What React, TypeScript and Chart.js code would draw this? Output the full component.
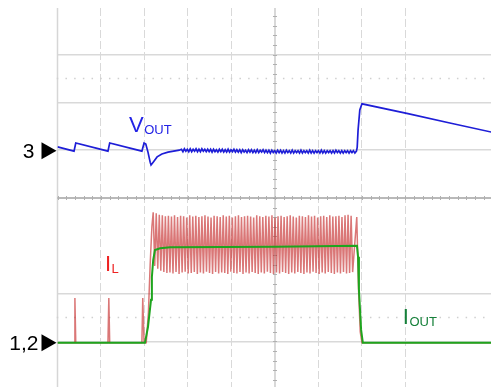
import { useEffect, useRef } from "react";
import { Chart, registerables } from "chart.js";

Chart.register(...registerables);

// Axis extents (in screen divisions of the oscilloscope)
const X_MIN = -5;
const X_MAX = 4.966;
const Y_MIN = -3.954;
const Y_MAX = 3.975;
// horizontal grid rows that the scope shows
const Y_GRID_ROWS = [3, 2, 1, -2, -3];

// Channel ground markers
const CH3_LEVEL = 0.99;
const CH12_LEVEL = -3.03;

// VOUT (channel 3) – before the load step
const VOUT_PRE_T = [-5.0, -4.62, -4.58, -3.84, -3.8, -3.06, -3.01, -2.97, -2.92, -2.87, -2.85, -2.8, -2.71, -2.6, -2.46, -2.2];
const VOUT_PRE_V = [1.07, 0.98, 1.15, 0.98, 1.15, 0.98, 1.15, 1.13, 0.96, 0.75, 0.69, 0.75, 0.86, 0.92, 0.96, 1.0];
// VOUT ripple during load (sample start / step)
const VOUT_RIPPLE_T0 = -2.15;
const VOUT_RIPPLE_DT = 0.0335;
const VOUT_RIPPLE = [
  1.02, 0.97, 1.03, 0.98, 1.02, 0.97, 1.03, 0.97, 1.02, 0.98,
  1.03, 0.97, 1.02, 0.97, 1.03, 0.98, 1.02, 0.97, 1.02, 0.97,
  1.02, 0.96, 1.02, 0.97, 1.01, 0.96, 1.02, 0.97, 1.02, 0.96,
  1.01, 0.96, 1.02, 0.96, 1.01, 0.97, 1.02, 0.96, 1.01, 0.96,
  1.01, 0.95, 1.01, 0.96, 1.0, 0.95, 1.01, 0.96, 1.01, 0.95,
  1.0, 0.95, 1.01, 0.95, 1.0, 0.96, 1.01, 0.95, 1.0, 0.95,
  1.0, 0.94, 1.0, 0.95, 0.99, 0.94, 1.0, 0.95, 1.0, 0.94,
  0.99, 0.94, 1.0, 0.95, 0.99, 0.94, 1.0, 0.94, 0.99, 0.95,
  0.99, 0.94, 1.0, 0.94, 0.99, 0.95, 0.99, 0.94, 1.0, 0.94,
  0.99, 0.94, 0.99, 0.95, 0.99, 0.94, 1.0, 0.94, 0.99, 0.94,
  0.99, 0.95, 0.99, 0.94, 0.99, 0.94, 1.0, 0.95, 0.99, 0.94,
  0.99, 0.94, 0.99, 0.95, 0.99, 0.94, 0.99, 0.95, 0.99, 0.94,
  0.98,
];
// VOUT after load release
const VOUT_POST_T = [1.87, 1.89, 1.91, 1.95, 2.0, 3.03, 4.02, 4.97];
const VOUT_POST_V = [0.97, 1.06, 1.42, 1.84, 1.97, 1.77, 1.57, 1.38];

// IL (channel 1) – pulses before load
const IL_PRE_T = [-5.0, -4.62, -4.6, -4.58, -3.84, -3.82, -3.8, -3.06, -3.04, -3.01, -2.96, -2.91, -2.87, -2.83];
const IL_PRE_V = [-3.03, -3.03, -2.09, -3.03, -3.03, -2.09, -3.03, -3.03, -2.09, -3.03, -3.03, -2.4, -1.4, -0.6];
// IL switching ripple during load
const IL_RIPPLE_T0 = -2.8;
const IL_RIPPLE_DT = 0.035;
const IL_RIPPLE = [
  -0.3, -1.42, -0.32, -1.48, -0.35, -1.52, -0.36, -1.55, -0.38, -1.57,
  -0.37, -1.56, -0.39, -1.58, -0.36, -1.55, -0.4, -1.59, -0.37, -1.56,
  -0.38, -1.54, -0.41, -1.58, -0.36, -1.57, -0.39, -1.55, -0.37, -1.59,
  -0.4, -1.56, -0.38, -1.58, -0.36, -1.54, -0.39, -1.57, -0.41, -1.59,
  -0.37, -1.55, -0.38, -1.58, -0.4, -1.56, -0.36, -1.57, -0.39, -1.59,
  -0.37, -1.54, -0.41, -1.57, -0.38, -1.58, -0.36, -1.55, -0.4, -1.59,
  -0.38, -1.56, -0.37, -1.58, -0.39, -1.55, -0.41, -1.57, -0.36, -1.59,
  -0.38, -1.56, -0.4, -1.58, -0.37, -1.54, -0.39, -1.57, -0.36, -1.59,
  -0.41, -1.56, -0.38, -1.58, -0.37, -1.55, -0.4, -1.57, -0.38, -1.59,
  -0.36, -1.56, -0.39, -1.58, -0.41, -1.55, -0.37, -1.57, -0.38, -1.59,
  -0.4, -1.56, -0.36, -1.58, -0.39, -1.54, -0.37, -1.57, -0.41, -1.59,
  -0.38, -1.56, -0.37, -1.58, -0.4, -1.55, -0.36, -1.57, -0.39, -1.59,
  -0.38, -1.56, -0.37, -1.58, -0.4, -1.55, -0.36, -1.58, -0.35, -1.57,
  -0.37, -1.55,
];
const IL_POST_T = [1.88, 1.92, 1.96, 2.0, 4.97];
const IL_POST_V = [-0.4, -1.9, -2.8, -3.03, -3.03];

// IOUT (channel 2)
const IOUT_T = [-5.0, -2.99, -2.92, -2.85, -2.83, -2.8, -2.76, -2.64, -2.41, 0.0, 1.885, 1.91, 1.93, 1.98, 2.02, 4.97];
const IOUT_V = [-3.03, -3.03, -2.7, -2.13, -1.65, -1.3, -1.09, -1.05, -1.03, -1.02, -1.0, -1.23, -1.92, -2.76, -3.03, -3.03];

// Text labels
const LABELS = [
  { main: "V", sub: "OUT", x: -3.356, y: 1.38, color: "#2323e6" },
  { main: "I", sub: "L", x: -3.91, y: -1.53, color: "#ee2222" },
  { main: "I", sub: "OUT", x: 2.94, y: -2.64, color: "#16803a" },
];
const MARKERS = [
  { text: "3", level: CH3_LEVEL },
  { text: "1,2", level: CH12_LEVEL },
];

function pts(t: number[], v: number[]) {
  return t.map((x, i) => ({ x, y: v[i] }));
}
function sampled(t0: number, dt: number, v: number[]) {
  return v.map((y, i) => ({ x: t0 + i * dt, y }));
}

const FONT = "'Liberation Sans', Arial, sans-serif";

const scopePlugin = {
  id: "scope",
  beforeDatasetsDraw(chart: any) {
    const { ctx, chartArea: a, scales } = chart;
    const xs = scales.x;
    const ys = scales.y;
    ctx.save();
    // left border
    ctx.strokeStyle = "#d6d6d6";
    ctx.lineWidth = 1.5;
    const xl = xs.getPixelForValue(-5);
    ctx.beginPath();
    ctx.moveTo(xl, a.top);
    ctx.lineTo(xl, a.bottom);
    ctx.stroke();
    // dotted rows
    ctx.fillStyle = "#cfcfcf";
    for (const row of [2.5, -2.5]) {
      const yy = ys.getPixelForValue(row);
      for (let v = -5; v <= X_MAX; v += 0.2) {
        const xx = xs.getPixelForValue(v);
        ctx.fillRect(xx - 0.75, yy - 0.75, 1.5, 1.5);
      }
    }
    // centre vertical line
    const xc = xs.getPixelForValue(0);
    ctx.strokeStyle = "#cccccc";
    ctx.lineWidth = 1.5;
    ctx.beginPath();
    ctx.moveTo(xc, a.top);
    ctx.lineTo(xc, a.bottom);
    ctx.stroke();
    ctx.strokeStyle = "#b0b0b0";
    ctx.lineWidth = 1;
    for (let v = -4; v <= 4; v += 0.2) {
      const yy = Math.round(ys.getPixelForValue(v)) + 0.5;
      ctx.beginPath();
      ctx.moveTo(xc - 2, yy);
      ctx.lineTo(xc + 2, yy);
      ctx.stroke();
    }
    // centre horizontal line
    const yc = ys.getPixelForValue(0);
    ctx.strokeStyle = "#a2a2a2";
    ctx.lineWidth = 1.3;
    ctx.beginPath();
    ctx.moveTo(a.left, yc);
    ctx.lineTo(a.right, yc);
    ctx.stroke();
    ctx.strokeStyle = "#b0b0b0";
    ctx.lineWidth = 1;
    for (let v = -5; v <= X_MAX; v += 0.2) {
      const xx = Math.round(xs.getPixelForValue(v)) + 0.5;
      ctx.beginPath();
      ctx.moveTo(xx, yc - 2);
      ctx.lineTo(xx, yc + 2);
      ctx.stroke();
    }
    ctx.restore();
  },
  afterDatasetsDraw(chart: any) {
    const { ctx, chartArea: a, scales } = chart;
    const xs = scales.x;
    const ys = scales.y;
    ctx.save();
    // channel markers
    for (const m of MARKERS) {
      const yy = ys.getPixelForValue(m.level);
      const tip = a.left - 1;
      ctx.fillStyle = "#000";
      ctx.beginPath();
      ctx.moveTo(tip, yy);
      ctx.lineTo(tip - 15, yy - 8.5);
      ctx.lineTo(tip - 15, yy + 8.5);
      ctx.closePath();
      ctx.fill();
      ctx.font = `21px ${FONT}`;
      ctx.textAlign = "right";
      ctx.textBaseline = "alphabetic";
      ctx.fillText(m.text, tip - (m.text.length > 1 ? 18 : 22), yy + 7.5);
    }
    // trace labels
    for (const l of LABELS) {
      const xx = xs.getPixelForValue(l.x);
      const yy = ys.getPixelForValue(l.y);
      ctx.fillStyle = l.color;
      ctx.textAlign = "left";
      ctx.textBaseline = "alphabetic";
      ctx.font = `22px ${FONT}`;
      ctx.fillText(l.main, xx, yy);
      const w = ctx.measureText(l.main).width;
      ctx.font = `13px ${FONT}`;
      ctx.fillText(l.sub, xx + w + 0.5, yy + 1.5);
    }
    ctx.restore();
  },
};

export default function App() {
  const ref = useRef<HTMLCanvasElement>(null);
  useEffect(() => {
    const vout = [
      ...pts(VOUT_PRE_T, VOUT_PRE_V),
      ...sampled(VOUT_RIPPLE_T0, VOUT_RIPPLE_DT, VOUT_RIPPLE),
      ...pts(VOUT_POST_T, VOUT_POST_V),
    ];
    const il = [
      ...pts(IL_PRE_T, IL_PRE_V),
      ...sampled(IL_RIPPLE_T0, IL_RIPPLE_DT, IL_RIPPLE),
      ...pts(IL_POST_T, IL_POST_V),
    ];
    const iout = pts(IOUT_T, IOUT_V);
    const isInt = (v: number) => Math.abs(v - Math.round(v)) < 1e-6;
    const chart = new Chart(ref.current!, {
      type: "line",
      data: {
        datasets: [
          { label: "VOUT", data: vout, borderColor: "rgb(30,30,215)", borderWidth: 1.7, pointRadius: 0, tension: 0, order: 3 },
          { label: "IL", data: il, borderColor: "rgba(195,35,35,0.62)", borderWidth: 1.5, pointRadius: 0, tension: 0, order: 2 },
          { label: "IOUT", data: iout, borderColor: "rgb(30,165,30)", borderWidth: 2, pointRadius: 0, tension: 0, order: 1 },
        ],
      },
      options: {
        responsive: false,
        animation: false,
        devicePixelRatio: 1,
        layout: { padding: { left: 57.5, top: 8, right: 0, bottom: 0 } },
        plugins: { legend: { display: false }, tooltip: { enabled: false } },
        scales: {
          x: {
            type: "linear",
            min: X_MIN,
            max: X_MAX,
            ticks: { display: false, stepSize: 1 },
            grid: {
              drawTicks: false,
              lineWidth: 1,
              color: (c: any) => (isInt(c.tick.value) && c.tick.value !== 0 && c.tick.value !== -5 ? "#d9d9d9" : "rgba(0,0,0,0)"),
            },
            border: { display: false, dash: [8, 3] },
          },
          y: {
            type: "linear",
            min: Y_MIN,
            max: Y_MAX,
            ticks: { display: false, stepSize: 1 },
            grid: {
              drawTicks: false,
              lineWidth: 1.5,
              color: (c: any) =>
                isInt(c.tick.value) && Y_GRID_ROWS.includes(Math.round(c.tick.value)) ? "#d9d9d9" : "rgba(0,0,0,0)",
            },
            border: { display: false },
          },
        },
      },
      plugins: [scopePlugin],
    });
    return () => chart.destroy();
  }, []);
  return (
    <div style={{ position: "fixed", left: 0, top: 0, width: 491, height: 387, background: "#fff" }}>
      <canvas ref={ref} width={491} height={387} style={{ display: "block", width: 491, height: 387 }} />
    </div>
  );
}
